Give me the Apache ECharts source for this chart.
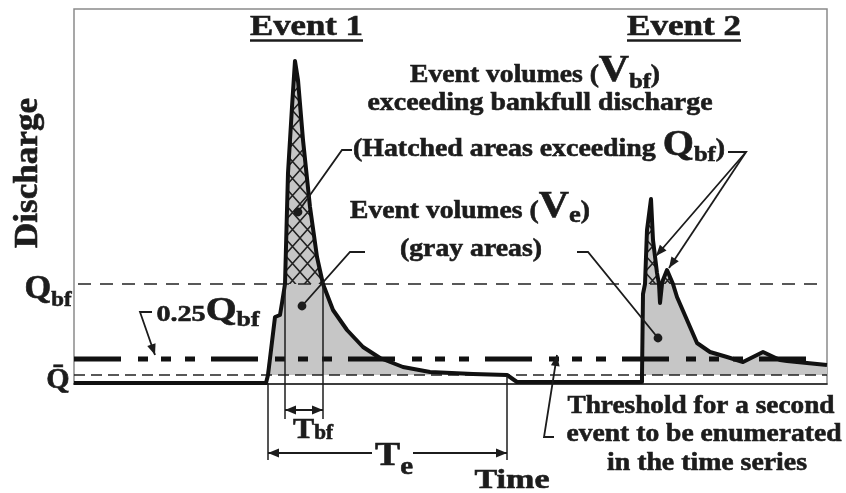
<!DOCTYPE html>
<html>
<head>
<meta charset="utf-8">
<title>Event volumes and durations</title>
<script src="https://cdn.jsdelivr.net/npm/echarts@6.0.0/dist/echarts.min.js"></script>
<style>
  html, body { margin: 0; padding: 0; background: #fff; }
  #chart { width: 846px; height: 493px; }
</style>
</head>
<body>
<div id="chart"></div>
<script>
// Schematic hydrograph: time (arbitrary units) and discharge (percent of bankfull)
const timeSteps = [0, 192, 194, 201, 206, 208, 211, 214, 218, 221, 224, 229, 236, 243, 249, 259, 273, 289, 306, 329, 356, 399, 433, 443,
  568, 568, 569, 571, 573, 577, 579, 583, 585, 586, 588, 589, 593, 596, 599, 603, 613, 623, 636, 653, 669, 689, 706, 713, 733, 753];
const discharge = [1, 1, 9, 67, 69, 81, 100, 211, 277, 323, 304, 244, 177, 127, 100, 74, 54, 37, 26, 17, 12, 10, 9, 2,
  2, 9, 90, 100, 154, 185, 144, 111, 100, 81, 100, 104, 114, 107, 100, 87, 64, 41, 32, 27, 22, 32, 24, 23, 21, 19];

// Reference discharge levels
const bankfullQ = 100;
const meanQ = 9;
const thresholdQ = 0.25 * bankfullQ;

// Axis extents
const timeRange = [0, 753];
const dischargeRange = [0, 375];

// Durations: T_bf spans the time above bankfull, T_e the whole event
const bankfullSpan = [211, 249];
const eventSpan = [194, 433];

const INK = '#1c1c1c';
const SERIF = '"Liberation Serif", "Times New Roman", serif';

// cross-hatch tile for volumes above bankfull
function hatchTile() {
  const c = document.createElement('canvas');
  c.width = 15; c.height = 17;
  const g = c.getContext('2d');
  g.fillStyle = '#c6c6c6';
  g.fillRect(0, 0, 15, 17);
  g.strokeStyle = '#222';
  g.lineWidth = 1.5;
  g.beginPath();
  g.moveTo(0, 0); g.lineTo(15, 17);
  g.moveTo(15, 0); g.lineTo(0, 17);
  g.stroke();
  return c;
}

const hydrograph = timeSteps.map((t, i) => [t, discharge[i]]);
const eventFill = timeSteps.map((t, i) => [t, Math.max(discharge[i], meanQ)]);
const bankfullFill = timeSteps.map((t, i) => [t, Math.max(discharge[i], bankfullQ)]);

const option = {
  animation: false,
  grid: {
    left: 74, right: 19, top: 9, bottom: 109,
    show: true, borderColor: '#8a8a8a', borderWidth: 1.5, backgroundColor: '#fff'
  },
  xAxis: {
    type: 'value', min: timeRange[0], max: timeRange[1],
    axisLine: { show: true, onZero: false, lineStyle: { color: INK, width: 1.5 } },
    axisTick: { show: false }, axisLabel: { show: false }, splitLine: { show: false }
  },
  yAxis: {
    type: 'value', min: dischargeRange[0], max: dischargeRange[1],
    axisLine: { show: false }, axisTick: { show: false },
    axisLabel: { show: false }, splitLine: { show: false }
  },
  series: [
    {
      name: 'Event volume', type: 'line', data: eventFill, symbol: 'none', silent: true, z: 1,
      lineStyle: { opacity: 0 },
      areaStyle: { color: '#c6c6c6', opacity: 1, origin: meanQ }
    },
    {
      name: 'Volume above bankfull', type: 'line', data: bankfullFill, symbol: 'none', silent: true, z: 2,
      lineStyle: { opacity: 0 },
      areaStyle: { color: { image: hatchTile(), repeat: 'repeat' }, opacity: 1, origin: bankfullQ }
    },
    {
      name: 'Mean discharge', type: 'line', data: [[timeRange[0], meanQ], [timeRange[1], meanQ]],
      symbol: 'none', silent: true, z: 3,
      lineStyle: { color: '#222', width: 1.5, type: [11, 6] }
    },
    {
      name: 'Bankfull discharge', type: 'line', data: [[4, bankfullQ], [746, bankfullQ]],
      symbol: 'none', silent: true, z: 3,
      lineStyle: { color: '#222', width: 1.5, type: [13, 9] }
    },
    {
      name: 'Event threshold', type: 'line', data: [[timeRange[0], thresholdQ], [736, thresholdQ]],
      symbol: 'none', silent: true, z: 3,
      lineStyle: { color: '#111', width: 5, type: [47, 17, 10, 13, 10, 14, 10, 16] }
    },
    {
      name: 'Discharge', type: 'line', data: hydrograph, symbol: 'none', silent: true, z: 5, clip: false,
      lineStyle: { color: '#111', width: 4, join: 'round' }
    }
  ]
};

const chart = echarts.init(document.getElementById('chart'), null, { renderer: 'canvas' });
chart.setOption(option);

const P = (t, v) => chart.convertToPixel({ gridIndex: 0 }, [t, v]);

// ---------- annotation helpers ----------
const measureCtx = document.createElement('canvas').getContext('2d');
function runWidth(parts) {
  return parts.reduce((w, p) => {
    measureCtx.font = 'bold ' + p.size + 'px ' + SERIF;
    return w + measureCtx.measureText(p.text).width;
  }, 0);
}
const part = (text, size, drop) => ({ text, size, drop: drop || 0 });

// One line of heavy serif text; parts share a baseline, "drop" lowers subscripts.
// Each token sits on the box bottom and is lifted by its bottom padding.
function label(parts, cx, baseline, width) {
  const K = 30;
  const rich = {};
  let text = '';
  parts.forEach((p, i) => {
    const name = 'p' + i;
    rich[name] = {
      fontFamily: SERIF, fontWeight: 'bold', fontSize: p.size, fill: INK,
      stroke: INK, lineWidth: 0.6,
      verticalAlign: 'bottom',
      padding: [0, 0, K - p.drop - 0.16 * p.size, 0]
    };
    text += '{' + name + '|' + p.text + '}';
  });
  const sx = width ? width / runWidth(parts) : 1;
  return {
    type: 'text', x: cx, y: baseline + K, scaleX: sx, z: 30, silent: true,
    style: { text, rich, align: 'center', verticalAlign: 'bottom', fill: INK }
  };
}

function polyline(points, lw) {
  return { type: 'polyline', z: 20, silent: true,
    shape: { points }, style: { stroke: INK, lineWidth: lw || 1.8, fill: null } };
}
function arrowHead(tip, from, len, half) {
  len = len || 11; half = half || 4.4;
  const dx = tip[0] - from[0], dy = tip[1] - from[1];
  const d = Math.hypot(dx, dy), ux = dx / d, uy = dy / d;
  const bx = tip[0] - ux * len, by = tip[1] - uy * len;
  return { type: 'polygon', z: 21, silent: true,
    shape: { points: [tip, [bx - uy * half, by + ux * half], [bx + uy * half, by - ux * half]] },
    style: { fill: INK } };
}
function dot(p) {
  return { type: 'circle', z: 21, silent: true, shape: { cx: p[0], cy: p[1], r: 4.4 }, style: { fill: INK } };
}

// leader lines in data coordinates, ending in an arrow or a dot
const leaders = [
  { pts: [[78, 72], [66, 72], [81, 29]], end: 'arrow' },          // 0.25 Q_bf
  { pts: [[278, 234], [268, 234], [224, 172]], end: 'dot' },      // V_bf, event 1
  { pts: [[654, 232], [672, 232], [582, 128]], end: 'arrow' },    // V_bf, event 2
  { pts: [[672, 232], [595, 116]], end: 'arrow' },
  { pts: [[291, 132], [276, 132], [228, 78]], end: 'dot' },       // V_e, event 1
  { pts: [[503, 132], [514, 132], [584, 46]], end: 'dot' },       // V_e, event 2
  { pts: [[480, -53], [470, -53], [483, 29]], end: 'arrow' }      // threshold
];

const graphics = [];
leaders.forEach(l => {
  const px = l.pts.map(p => P(p[0], p[1]));
  graphics.push(polyline(px));
  const tip = px[px.length - 1], prev = px[px.length - 2];
  graphics.push(l.end === 'arrow' ? arrowHead(tip, prev) : dot(tip));
});

// duration brackets
const tbfLevel = -26, teLevel = -69;
[[bankfullSpan[0], bankfullQ, -35], [bankfullSpan[1], bankfullQ, -35],
 [eventSpan[0], 1, -76], [eventSpan[1], 8, -76]].forEach(([t, v0, v1]) => {
  graphics.push(polyline([P(t, v0), P(t, v1)], 1.5));
});
function dimArrow(t0, t1, v, tipStart, tipEnd) {
  const a = P(t0, v), b = P(t1, v);
  graphics.push(polyline([a, b], 1.8));
  if (tipStart) graphics.push(arrowHead(a, b));
  if (tipEnd) graphics.push(arrowHead(b, a));
}
dimArrow(bankfullSpan[0], bankfullSpan[1], tbfLevel, true, true);
dimArrow(eventSpan[0], 298, teLevel, true, false);
dimArrow(339, eventSpan[1], teLevel, false, true);

// titles and labels
const titles = [
  [[part('Event 1', 29)], 306.5, 37, 113],
  [[part('Event 2', 29)], 684, 37, 114]
];
titles.forEach(([parts, cx, base, w]) => {
  graphics.push(label(parts, cx, base, w));
  graphics.push({ type: 'line', z: 30, silent: true,
    shape: { x1: cx - w / 2, y1: base + 3.5, x2: cx + w / 2, y2: base + 3.5 },
    style: { stroke: INK, lineWidth: 2.6 } });
});

const labels = [
  [[part('Event volumes (', 25), part('V', 38), part('bf', 22, 6), part(')', 25)], 535, 84, 250],
  [[part('exceeding bankfull discharge', 25)], 540, 112, 345],
  [[part('(Hatched areas exceeding ', 25), part('Q', 36), part('bf', 22, 5), part(')', 25)], 539, 158, 372],
  [[part('Event volumes (', 25), part('V', 38), part('e', 24, 4), part(')', 25)], 470, 220, 240],
  [[part('(gray areas)', 25)], 471, 258, 142],
  [[part('Threshold for a second', 26)], 701, 415, 267],
  [[part('event to be enumerated', 26)], 704, 443, 275],
  [[part('in the time series', 26)], 707, 472, 200],
  [[part('Time', 28)], 512, 490, 75],
  [[part('T', 34), part('e', 26, 8)], 394, 468, 38],
  [[part('T', 30), part('bf', 20, 1)], 313, 440, 40],
  [[part('Q', 33), part('bf', 22, 7)], 48, 301, 47],
  [[part('Q\u0304', 30)], 58, 390, null],
  [[part('0.25', 24), part('Q', 34), part('bf', 22, 5)], 208, 323, 103]
];
labels.forEach(([parts, cx, base, w]) => graphics.push(label(parts, cx, base, w)));

// vertical axis title
measureCtx.font = 'bold 33px ' + SERIF;
graphics.push({
  type: 'text', x: 28, y: 173, rotation: Math.PI / 2, z: 30, silent: true,
  scaleX: 150 / measureCtx.measureText('Discharge').width,
  style: { text: 'Discharge', fontFamily: SERIF, fontWeight: 'bold', fontSize: 33,
    fill: INK, stroke: INK, lineWidth: 0.6, align: 'center', verticalAlign: 'middle' }
});

chart.setOption({ graphic: { elements: graphics } });
</script>
</body>
</html>
